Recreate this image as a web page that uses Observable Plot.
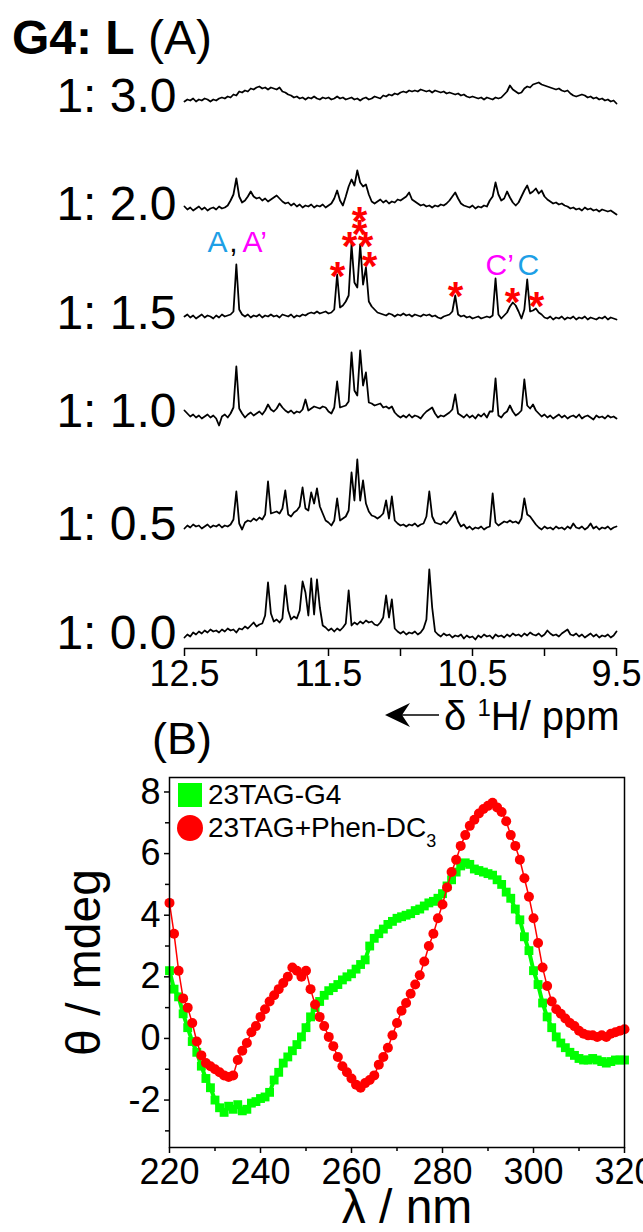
<!DOCTYPE html>
<html><head><meta charset="utf-8">
<script src="https://cdn.jsdelivr.net/npm/d3@7"></script>
<script src="https://cdn.jsdelivr.net/npm/@observablehq/plot@0.6"></script>
<style>
html,body{margin:0;padding:0;background:#fff;}
body{width:643px;height:1232px;position:relative;overflow:hidden;font-family:"Liberation Sans",Arial,sans-serif;color:#000;}
.abs{position:absolute;white-space:nowrap;line-height:1;}
</style></head><body>
<div id="plotA" class="abs" style="left:0;top:0"></div>
<div id="plotB" class="abs" style="left:0;top:700px"></div>
<div class="abs" style="left:12px;top:14px;font-size:48px;"><b>G4: L</b> (A)</div>
<svg class="abs" style="left:385px;top:702px" width="56" height="26"><polygon points="0,13 25,1 17,13 25,25" fill="#000"/><line x1="17" y1="13" x2="54" y2="13" stroke="#000" stroke-width="1.5"/></svg>
<div class="abs" style="left:444px;top:696px;font-size:40px;">δ <span style="font-size:24px;position:relative;top:-14px">1</span>H/ ppm</div>
<div class="abs" style="left:152px;top:716px;font-size:45px;">(B)</div>
<div class="abs" style="left:178px;top:783px;width:24px;height:24px;background:#00ff00"></div>
<div class="abs" style="left:177px;top:815px;width:26px;height:26px;border-radius:50%;background:#ff0000"></div>
<div class="abs" style="left:208px;top:781px;font-size:28px;">23TAG-G4</div>
<div class="abs" style="left:208px;top:814px;font-size:28px;">23TAG+Phen-DC<span style="font-size:18px;position:relative;top:10px">3</span></div>
<script>
// ---------- Panel A: 1H NMR imino region (ppm grid 12.50 -> 9.50, step 0.02) ----------
const ppmStart = 12.5, ppmStep = 0.02, ppmCount = 151;
const ratioLabels = ["1: 0.0", "1: 0.5", "1: 1.0", "1: 1.5", "1: 2.0", "1: 3.0"];
const t00 = [0,3,1,5,3,6,4,7,5,8, 6,7,5,8,6,9,7,8,5,9, 8,11,9,12,15,11,13,14,22,55, 24,16,18,15,19,52,27,18,21,19,
 27,56,45,22,59,23,58,30,12,10, 7,9,6,9,7,10,14,47,12,15, 13,16,14,17,15,16,13,12,15,20, 42,20,38,9,6,4,6,3,5,4,
 6,3,5,9,18,68,30,6,3,1, 4,2,3,0,2,1,3,-1,2,0, 1,-2,2,0,3,1,2,-1,3,1, 2,0,3,1,4,2,3,1,4,2,
 5,3,2,4,1,3,7,4,2,3, 1,4,6,8,3,2,4,1,3,0, 2,4,1,3,0,2,1,3,0,2, 6];
const t05 = [0,3,1,4,2,3,0,2,4,1, 3,2,4,1,3,2,4,9,37,5, -1,6,8,7,10,8,11,9,14,47, 15,16,17,15,20,38,14,12,16,18,
 22,41,20,18,36,25,40,22,15,8, 6,3,8,30,8,10,12,18,56,28, 69,28,48,25,17,13,12,10,12,15, 28,10,32,8,5,3,4,2,4,3,
 5,2,4,5,12,37,12,6,5,4, 7,5,8,12,17,7,2,4,0,2, -1,1,0,2,-1,1,2,35,6,3, 5,7,6,8,6,7,5,10,30,14,
 12,8,4,1,-1,2,0,1,-1,2, 0,1,-1,2,0,5,1,0,2,-1, 1,5,0,2,-1,1,0,2,-1,1, 2];
const t10 = [5,2,-1,1,-2,0,-3,-1,1,-2, 0,-3,-10,-1,1,-2,2,8,49,7, 2,-2,1,3,0,2,4,1,5,11, 6,4,7,12,8,5,3,5,2,4,
 3,6,16,5,7,9,8,7,9,8, 4,2,8,34,8,9,10,14,63,25, 20,65,30,43,13,12,10,11,12,8, 9,7,9,3,0,-2,0,-2,1,-2,
 0,-1,-3,1,4,6,8,2,-2,0, -1,1,3,6,21,2,0,-2,1,-2, 0,-3,1,-1,2,-2,4,4,37,0, -2,2,4,10,4,0,2,5,36,10,
 7,11,5,2,-1,1,-2,0,-3,-1, 1,-2,0,-3,-1,0,-2,1,-3,-1, 0,-2,-4,0,-2,-1,-3,0,-2,-1, -3];
const t15 = [1,3,0,2,-1,1,3,0,2,1, -1,2,0,3,1,2,3,6,53,8, 3,1,3,0,2,1,3,0,2,1, 3,1,2,0,3,2,1,3,0,2,
 1,3,2,4,5,4,6,4,5,6, 4,5,8,43,10,12,16,22,73,35, 30,73,33,50,16,11,8,5,4,3, 2,4,3,1,3,2,4,2,3,1,
 3,2,1,3,2,3,1,2,0,-1, 1,2,3,6,22,3,1,2,0,1, -1,0,1,-1,0,1,0,2,39,3, -1,2,5,11,15,12,6,-1,8,38,
 6,7,9,5,3,0,-1,1,-2,0, -1,1,-2,0,-1,1,-2,0,-1,1, -2,0,-1,-2,0,-1,1,-2,0,-1, -2];
const t20 = [2,-1,1,-2,0,2,-1,1,-2,0, 1,-1,2,0,1,3,8,14,30,12, 6,8,12,17,12,10,11,8,10,7, 9,11,13,10,7,5,6,3,5,2,
 4,1,3,2,4,1,3,2,4,1, 3,5,10,18,8,3,12,22,29,23, 38,26,22,24,14,7,5,7,9,6, 8,5,7,6,9,8,10,12,16,9,
 7,5,3,4,2,3,1,3,2,4, 3,5,8,12,16,10,5,3,2,1, 3,0,2,1,3,2,8,12,26,14, 8,10,17,11,6,3,6,12,18,23,
 15,17,20,15,18,12,9,7,5,6, 4,5,3,2,0,1,-1,0,-2,1, -1,0,-2,-1,-3,-1,-2,-3,-2,-4, -6];
const t30 = [-1,1,0,2,-1,1,0,2,1,-1, 1,0,2,3,2,4,3,6,5,9, 8,10,9,12,11,13,14,12,13,11, 13,12,11,13,9,8,6,5,3,4,
 2,3,1,3,2,4,2,1,3,2, 3,1,2,4,2,3,1,2,3,1, 2,0,2,3,1,2,4,3,2,5, 4,6,5,7,6,8,9,8,10,9,
 10,9,11,10,9,10,8,10,9,8, 9,7,8,7,6,7,5,6,4,3, 4,3,2,3,1,3,2,1,3,2, 3,6,9,15,11,9,7,8,12,14,
 13,16,17,18,16,15,14,13,12,11, 12,10,9,10,7,5,4,5,6,5, 3,4,2,3,1,2,0,1,-1,0, -3];
const traceValues = [t00, t05, t10, t15, t20, t30];

// annotations on the 1:1.5 trace (ppm, height above that baseline)
const starPpm = [11.4375, 11.354, 11.285, 11.285, 11.243, 11.215, 10.618, 10.222, 10.056];
const starH   = [50, 80, 105, 92, 80, 60, 30, 24, 20];
const letterText = ["A", ",", "A\u2019", "C\u2019", "C"];
const letterPpm  = [12.34, 12.19, 12.097, 10.41, 10.1875];
const letterH    = [75, 75, 75, 52, 52];
const letterColor = ["#1E9FE6", "#000000", "#FF00FF", "#FF00FF", "#1E9FE6"];

// ---------- Panel B: CD spectra (220-320 nm, 1 nm) ----------
const cdStart = 220;
const g4CD = [2.2,1.6,1.35,0.8,0.35,-0.1,-0.45,-0.9,-1.3,-1.6,
 -2.0,-2.25,-2.4,-2.2,-2.3,-2.15,-2.35,-2.3,-2.1,-2.05,
 -1.95,-1.9,-1.75,-1.35,-1.1,-0.8,-0.6,-0.4,-0.2,0.05,
 0.35,0.7,1.0,1.2,1.4,1.55,1.65,1.75,1.9,2.0,
 2.1,2.25,2.4,2.55,3.0,3.25,3.4,3.55,3.7,3.8,
 3.9,3.95,4.0,4.05,4.15,4.2,4.3,4.4,4.45,4.55,
 4.7,4.95,5.15,5.4,5.6,5.7,5.65,5.5,5.45,5.4,
 5.35,5.3,5.15,5.0,4.75,4.55,4.2,3.85,3.3,2.85,
 2.2,1.75,1.15,0.7,0.35,0.05,-0.15,-0.3,-0.45,-0.55,
 -0.65,-0.7,-0.7,-0.65,-0.7,-0.75,-0.8,-0.75,-0.7,-0.7,
 -0.7];
const phenCD = [4.4,3.4,2.2,1.3,1.0,0.5,-0.1,-0.55,-0.8,-0.9,
 -1.0,-1.1,-1.2,-1.25,-1.2,-0.7,-0.4,-0.15,0.2,0.4,
 0.7,0.95,1.2,1.4,1.6,1.8,2.0,2.3,2.2,2.0,
 2.2,1.6,1.1,0.7,0.4,0.05,-0.25,-0.6,-0.9,-1.1,
 -1.3,-1.5,-1.6,-1.45,-1.35,-1.2,-0.85,-0.6,-0.3,0.1,
 0.5,0.9,1.15,1.45,1.75,2.05,2.5,3.0,3.4,3.9,
 4.35,4.9,5.4,5.8,6.25,6.6,6.9,7.1,7.3,7.45,
 7.55,7.65,7.5,7.35,7.05,6.6,6.25,5.8,5.2,4.6,
 3.9,3.1,2.3,1.7,1.2,0.95,0.8,0.65,0.5,0.4,
 0.25,0.15,0.1,0.1,0.05,0.1,0.05,0.15,0.2,0.25,
 0.3];
const xTicksB = [220, 240, 260, 280, 300, 320];
const yTicksB = [-2, 0, 2, 4, 6, 8];

// ---------- layout ----------
const FONT = '"Liberation Sans", Arial, sans-serif';
const offsets = [11, 120, 233, 331, 440, 548];   // vertical stacking of traces (px units)
const grid = d3.range(ppmCount).map(i => +(ppmStart - ppmStep * i).toFixed(2));
const nmr = traceValues.flatMap((vals, k) => vals.map((v, i) => ({ppm: grid[i], y: offsets[k] + v, k})));
const labelRows = ratioLabels.map((t, k) => ({t, y: offsets[k] + 4}));
const stars = starPpm.map((p, i) => ({ppm: p, y: offsets[3] + starH[i]}));
const letters = letterText.map((t, i) => ({t, ppm: letterPpm[i], y: offsets[3] + letterH[i], c: letterColor[i]}));
const labeled = new Set([12.5, 11.5, 10.5, 9.5]);

const plotA = Plot.plot({
  width: 643, height: 690, marginLeft: 184, marginRight: 27, marginTop: 60, marginBottom: 42,
  x: {domain: [12.5, 9.5]},
  y: {domain: [0, 588], axis: null},
  style: {fontFamily: FONT, fontSize: "36px", background: "transparent", overflow: "visible", color: "#000"},
  marks: [
    Plot.ruleY([0], {stroke: "#000", strokeWidth: 1.5}),
    Plot.axisX({ticks: [12.5, 12, 11.5, 11, 10.5, 10, 9.5], tickSize: 8, tickPadding: 4, label: null,
      strokeWidth: 1.5, tickFormat: d => labeled.has(d) ? d.toFixed(1) : ""}),
    Plot.line(nmr, {x: "ppm", y: "y", z: "k", stroke: "#000", strokeWidth: 1.8}),
    Plot.text(labelRows, {x: () => 12.5, y: "y", text: "t", textAnchor: "end", dx: -8, fontSize: 48}),
    Plot.text(stars, {x: "ppm", y: "y", text: () => "*", fill: "#ff0000", fontSize: 40, fontWeight: "bold", dy: 10}),
    Plot.text(letters, {x: "ppm", y: "y", text: "t", fill: "c", textAnchor: "start", fontSize: 30})
  ]
});
document.getElementById("plotA").append(plotA);

const g4 = g4CD.map((v, i) => ({wl: cdStart + i, v}));
const phen = phenCD.map((v, i) => ({wl: cdStart + i, v}));
const plotB = Plot.plot({
  width: 643, height: 532, marginLeft: 169, marginRight: 19, marginTop: 77, marginBottom: 85,
  x: {domain: [220, 320]},
  y: {domain: [-3.54, 8.47]},
  style: {fontFamily: FONT, fontSize: "36px", background: "transparent", overflow: "visible", color: "#000"},
  marks: [
    Plot.line(g4, {x: "wl", y: "v", stroke: "#00ff00", strokeWidth: 4}),
    Plot.dot(g4, {x: "wl", y: "v", symbol: "square", r: 5, fill: "#00ff00"}),
    Plot.line(phen, {x: "wl", y: "v", stroke: "#ff0000", strokeWidth: 1.5}),
    Plot.dot(phen, {x: "wl", y: "v", r: 5, fill: "#ff0000"}),
    Plot.frame({stroke: "#000", strokeWidth: 1.5}),
    Plot.axisX({ticks: xTicksB, tickSize: 6, tickPadding: 5, label: null, strokeWidth: 1.5, tickFormat: d => String(d)}),
    Plot.axisX({ticks: [230, 250, 270, 290, 310], tickSize: 4, label: null, strokeWidth: 1.5, tickFormat: () => ""}),
    Plot.axisY({ticks: yTicksB, tickSize: 5, tickPadding: 4, label: null, strokeWidth: 1.5, tickFormat: d => String(d)}),
    Plot.axisY({ticks: [-3, -1, 1, 3, 5, 7], tickSize: 4, label: null, strokeWidth: 1.5, tickFormat: () => ""}),
    Plot.text(["\u03b8 / mdeg"], {frameAnchor: "left", rotate: -90, textAnchor: "middle", lineAnchor: "middle", dx: -85, fontSize: 48}),
    Plot.text(["\u03bb / nm"], {frameAnchor: "bottom", textAnchor: "middle", lineAnchor: "middle", dy: 60, dx: 10, fontSize: 48})
  ]
});
document.getElementById("plotB").append(plotB);
</script>
</body></html>
